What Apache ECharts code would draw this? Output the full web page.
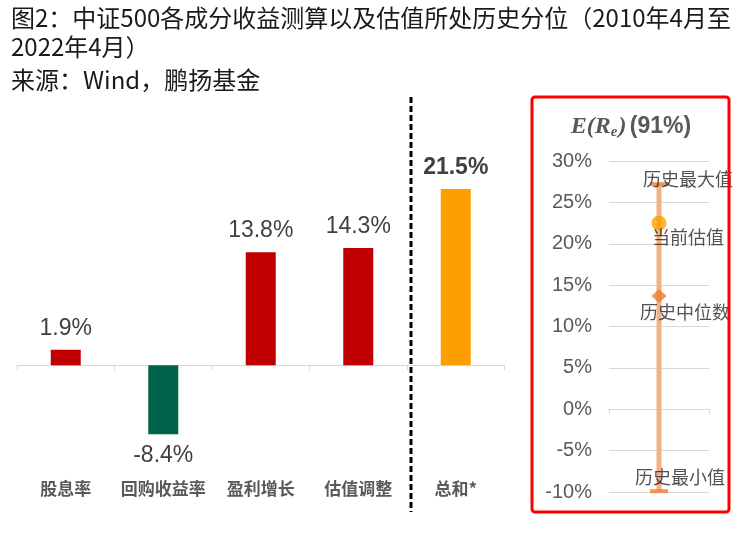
<!DOCTYPE html>
<html>
<head>
<meta charset="utf-8">
<script src="https://cdn.jsdelivr.net/npm/echarts@6/dist/echarts.min.js"></script>
<style>
html,body{margin:0;padding:0;background:#fff;}
#main{width:756px;height:552px;}
</style>
</head>
<body>
<div id="main"></div>
<script>
// ---- data ----
const categories = ['股息率', '回购收益率', '盈利增长', '估值调整', '总和*'];
const contributions = [1.9, -8.4, 13.8, 14.3, 21.5];
const rangeNames = ['历史最大值', '当前估值', '历史中位数', '历史最小值'];
const rangeValues = [27.2, 22.5, 13.7, -9.9];
const rightTicks = [-10, -5, 0, 5, 10, 15, 20, 25, 30];
const rangeTitle = '(91%)';

// ---- styles ----
const CJK = '"Noto Sans CJK SC", "Noto Sans", sans-serif';
const LAT = '"Liberation Sans", Arial, sans-serif';
const rangeStyles = [
  { symbol: 'rect', symbolSize: [18, 4], color: '#ED7D31', offset: [29, -5] },
  { symbol: 'circle', symbolSize: 15, color: '#FFA000', offset: [29, 14] },
  { symbol: 'diamond', symbolSize: [15, 14], color: '#ED7D31', offset: [26, 16] },
  { symbol: 'rect', symbolSize: [18, 4], color: '#ED7D31', offset: [21, -14] }
];

const barData = contributions.map((v, i) => {
  const isTotal = i === contributions.length - 1;
  return {
    value: v,
    itemStyle: { color: isTotal ? '#FF9E00' : (v < 0 ? '#00634A' : '#C00000') },
    label: {
      position: v < 0 ? 'bottom' : 'top',
      fontWeight: isTotal ? 'bold' : 'normal'
    }
  };
});

const scatterData = rangeValues.map((v, i) => ({
  value: [0, v],
  name: rangeNames[i],
  symbol: rangeStyles[i].symbol,
  symbolSize: rangeStyles[i].symbolSize,
  itemStyle: { color: rangeStyles[i].color },
  label: { offset: rangeStyles[i].offset }
}));

const chart = echarts.init(document.getElementById('main'), null, { renderer: 'canvas' });
chart.setOption({
  animation: false,
  backgroundColor: '#fff',
  title: [
    {
      text: '图2：中证500各成分收益测算以及估值所处历史分位（2010年4月至\n2022年4月）',
      left: 11, top: 3, padding: 0,
      textStyle: { fontFamily: CJK, fontSize: 24, fontWeight: 'normal', color: '#1a1a1a', lineHeight: 29 }
    },
    {
      text: '来源：Wind，鹏扬基金',
      left: 11, top: 65, padding: 0,
      textStyle: { fontFamily: CJK, fontSize: 24, fontWeight: 'normal', color: '#1a1a1a', lineHeight: 29 }
    }
  ],
  grid: [
    { left: 17, top: 70, width: 487.5, height: 402 },
    { left: 609, top: 161, width: 100, height: 331 }
  ],
  xAxis: [
    {
      type: 'category', gridIndex: 0, data: categories, position: 'bottom',
      axisLine: { onZero: true, lineStyle: { color: '#D9D9D9', width: 1 } },
      axisTick: { show: true, length: 5, lineStyle: { color: '#D9D9D9' } },
      axisLabel: { show: false }
    },
    {
      type: 'category', gridIndex: 0, data: categories, position: 'bottom',
      axisLine: { show: false, onZero: false },
      axisTick: { show: false },
      axisLabel: { show: true, interval: 0, margin: 8, fontFamily: CJK, fontSize: 17, fontWeight: 'bold', color: '#595959' }
    },
    {
      type: 'category', gridIndex: 1, data: [''], position: 'bottom',
      axisLine: { onZero: true, lineStyle: { color: '#D9D9D9', width: 1 } },
      axisTick: { show: true, length: 5, lineStyle: { color: '#D9D9D9' } },
      axisLabel: { show: false }
    }
  ],
  yAxis: [
    {
      type: 'value', gridIndex: 0, min: -13, max: 36,
      show: false, splitLine: { show: false }
    },
    {
      type: 'value', gridIndex: 1, min: rightTicks[0], max: rightTicks[rightTicks.length - 1], interval: 5,
      axisLine: { show: false }, axisTick: { show: false },
      splitLine: { lineStyle: { color: '#D9D9D9', width: 1 } },
      axisLabel: { margin: 17, fontFamily: LAT, fontSize: 20, color: '#595959', formatter: v => v + '%' }
    }
  ],
  series: [
    {
      type: 'bar', xAxisIndex: 0, yAxisIndex: 0, barWidth: 30,
      data: barData,
      label: {
        show: true, distance: 10, fontFamily: LAT, fontSize: 23, lineHeight: 22, color: '#404040',
        formatter: p => p.value.toFixed(1) + '%'
      }
    },
    {
      type: 'line', xAxisIndex: 2, yAxisIndex: 1, symbol: 'none',
      data: [[0, rangeValues[3]], [0, rangeValues[0]]],
      lineStyle: { color: '#F4B183', width: 5 },
      z: 2
    },
    {
      type: 'scatter', xAxisIndex: 2, yAxisIndex: 1,
      data: scatterData,
      z: 3,
      label: {
        show: true, position: 'inside', fontFamily: CJK, fontSize: 18, color: '#262626',
        formatter: p => p.name
      }
    }
  ],
  graphic: [
    {
      type: 'line', z: 10,
      shape: { x1: 411, y1: 97, x2: 411, y2: 512 },
      style: { stroke: '#000', lineWidth: 3, lineDash: [6, 3] }
    },
    {
      type: 'rect', z: 20,
      shape: { x: 532, y: 97, width: 197, height: 415, r: 3 },
      style: { fill: 'none', stroke: '#FF0000', lineWidth: 3 }
    },
    {
      type: 'text', z: 10, x: 631, y: 127,
      style: {
        text: '{m|E(}{m|R}{s|e}{m|)} {b|' + rangeTitle + '}',
        align: 'center', verticalAlign: 'middle',
        rich: {
          m: { fontFamily: '"Liberation Serif", serif', fontStyle: 'italic', fontWeight: 'bold', fontSize: 24, fill: '#595959', lineHeight: 26, verticalAlign: 'middle' },
          s: { fontFamily: '"Liberation Serif", serif', fontStyle: 'italic', fontWeight: 'bold', fontSize: 15, fill: '#595959', lineHeight: 26, verticalAlign: 'bottom', padding: [8, 1, 0, 0] },
          b: { fontFamily: LAT, fontWeight: 'bold', fontSize: 23, fill: '#595959', lineHeight: 26, verticalAlign: 'middle' }
        }
      }
    }
  ]
});
</script>
</body>
</html>
